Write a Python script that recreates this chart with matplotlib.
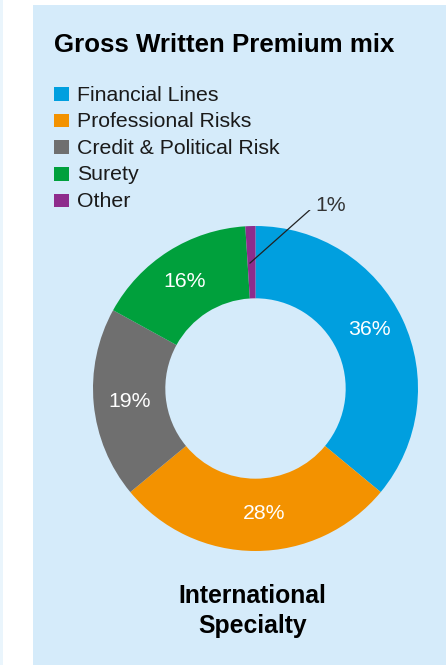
import matplotlib.pyplot as plt
from matplotlib.patches import Rectangle

categories = ["Financial Lines", "Professional Risks", "Credit & Political Risk",
              "Surety", "Other"]
shares = [36, 28, 19, 16, 1]
colors = ["#009fdf", "#f39200", "#6f6f6f", "#00a03c", "#8e2c8c"]
title = "Gross Written Premium mix"
segment = "International\nSpecialty"

BG = "#d5ebfa"
W, H = 446, 665
plt.rcParams["font.family"] = ["Liberation Sans", "DejaVu Sans"]

fig = plt.figure(figsize=(W / 100, H / 100), dpi=100)

# background axes in pixel coordinates
bg = fig.add_axes([0, 0, 1, 1])
bg.set_xlim(0, W)
bg.set_ylim(H, 0)
bg.axis("off")
bg.add_patch(Rectangle((33, 5), W - 33, H - 5, color=BG, lw=0))
bg.add_patch(Rectangle((0, 0), 2.5, H, color="#eaf5fc", lw=0))

bg.text(54, 52, title, fontsize=18.6, fontweight="bold", va="baseline", ha="left")

for i, (cat, col) in enumerate(zip(categories, colors)):
    yb = 100.7 + i * 26.6
    bg.add_patch(Rectangle((54, yb - 13.5), 14.5, 13.5, color=col, lw=0))
    bg.text(77, yb, cat, fontsize=15.3, va="baseline", ha="left", color="#1a1a1a")

line1, line2 = segment.split("\n")
bg.text(252.5, 603.3, line1, fontsize=17.8, fontweight="bold",
        ha="center", va="baseline")
bg.text(252.5, 632.7, line2, fontsize=17.8, fontweight="bold",
        ha="center", va="baseline")

# donut
cx, cy, r = 255.5, 388.5, 162.5
lim = 1.1
side = r * lim * 2
ax = fig.add_axes([(cx - side / 2) / W, (H - cy - side / 2) / H, side / W, side / H])
wedges, _ = ax.pie(shares, colors=colors, startangle=90, counterclock=False,
                   wedgeprops=dict(width=0.445, linewidth=0))
ax.set_xlim(-lim, lim)
ax.set_ylim(-lim, lim)
ax.set_aspect("equal")
ax.axis("off")

# label positions (manual, as in the source)
label_pos = [(0.70, 0.365), (0.05, -0.772), (-0.775, -0.08), (-0.435, 0.658)]
for val, (lx, ly) in zip(shares[:4], label_pos):
    ax.text(lx, ly, f"{val}%", color="white", fontsize=15.3, ha="center", va="center")

ax.plot([-0.034, 0.348], [0.772, 1.111], color="#222222", lw=0.9)
ax.text(0.366, 1.129, f"{shares[4]}%", color="#333333", fontsize=15.3,
        ha="left", va="center")

fig.savefig("out.png", dpi=100)
